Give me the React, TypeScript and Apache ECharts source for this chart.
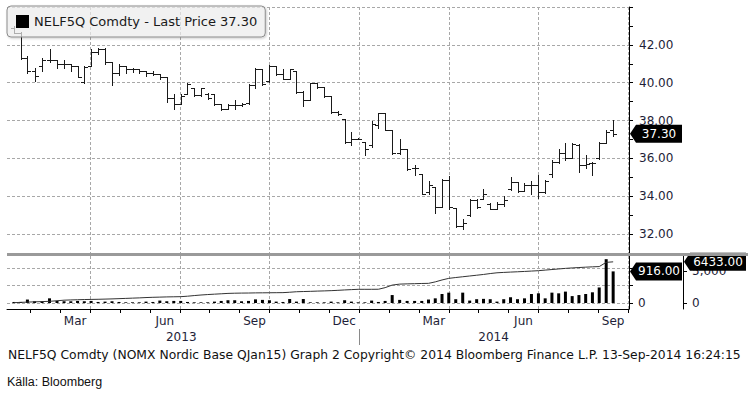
import React, { useEffect, useRef } from 'react';
import * as echarts from 'echarts';

// ---- data (weekly bars, first week starting 15 Jan 2013) ----
const FIRST_WEEK_UTC = Date.UTC(2013, 0, 15);

const weekOpen = [
  42.9, 42.6, 41.3, 40.6, 40.9, 41.2, 41.2, 41.0, 41.0, 40.9,
  40.05, 40.9, 41.6, 41.8, 41.1, 40.5, 40.9, 40.7, 40.7, 40.6,
  40.5, 40.45, 40.3, 39.2, 38.9, 39.4, 39.7, 39.35, 39.4, 39.4,
  38.85, 38.6, 38.8, 38.8, 38.95, 39.9, 40.7, 40.1, 40.9, 40.45,
  40.2, 40.6, 39.5, 39.1, 40.0, 39.75, 39.3, 38.45, 38.1, 36.85,
  37.05, 36.85, 36.7, 37.75, 38.4, 37.5, 36.3, 36.5, 35.5, 35.2,
  34.2, 34.5, 33.45, 34.85, 33.4, 32.45, 33.0, 33.8, 33.85, 33.6,
  33.35, 33.6, 34.4, 34.75, 34.3, 34.6, 34.6, 34.2, 35.2, 35.8,
  36.3, 36.0, 36.7, 35.65, 35.75, 36.0, 36.8, 37.5,
];
const weekHigh = [
  43.0, 42.7, 41.4, 40.8, 41.3, 41.8, 41.2, 41.2, 41.0, 40.9,
  40.9, 41.8, 41.85, 41.85, 41.1, 41.0, 40.9, 40.8, 40.75, 40.6,
  40.6, 40.45, 40.3, 39.4, 39.4, 40.0, 39.7, 39.7, 39.45, 39.4,
  38.85, 38.85, 39.1, 38.95, 39.95, 40.8, 40.7, 40.96, 40.9, 40.7,
  40.7, 40.6, 39.55, 40.0, 40.0, 39.75, 39.3, 38.5, 38.1, 37.4,
  37.1, 36.85, 38.0, 38.4, 38.4, 37.5, 37.0, 36.5, 35.65, 35.2,
  34.8, 34.5, 34.9, 35.05, 33.4, 32.8, 33.85, 33.85, 34.4, 33.65,
  33.7, 34.0, 35.0, 34.75, 34.7, 34.8, 35.1, 34.85, 35.9, 36.5,
  36.8, 36.8, 36.75, 36.2, 35.8, 36.85, 37.5, 38.05,
];
const weekLow = [
  42.6, 41.25, 40.5, 40.1, 40.6, 41.1, 40.8, 40.8, 40.6, 40.3,
  40.0, 40.9, 41.5, 41.0, 39.9, 40.4, 40.5, 40.55, 40.5, 40.35,
  40.4, 40.2, 39.0, 38.6, 38.9, 39.4, 39.3, 39.3, 39.15, 38.8,
  38.55, 38.6, 38.6, 38.75, 38.9, 39.7, 39.9, 40.05, 40.4, 40.2,
  40.2, 39.45, 38.75, 39.1, 39.7, 39.25, 38.4, 38.3, 36.8, 36.7,
  37.0, 36.2, 36.6, 37.6, 37.5, 36.25, 36.25, 35.4, 35.1, 34.1,
  34.1, 33.1, 33.45, 33.3, 32.4, 32.25, 32.95, 33.4, 33.85, 33.3,
  33.3, 33.5, 34.35, 34.25, 34.3, 34.1, 33.9, 34.15, 35.0, 35.75,
  35.9, 36.0, 35.3, 35.5, 35.1, 35.95, 36.8, 37.2,
];
const weekClose = [
  42.6, 41.3, 40.6, 40.35, 41.2, 41.2, 41.0, 41.0, 40.9, 40.3,
  40.85, 41.6, 41.8, 41.1, 40.5, 40.9, 40.7, 40.7, 40.6, 40.5,
  40.45, 40.3, 39.2, 38.9, 39.3, 39.95, 39.35, 39.7, 39.2, 38.85,
  38.6, 38.8, 38.8, 38.85, 39.9, 40.7, 39.95, 40.9, 40.45, 40.2,
  40.7, 39.5, 39.1, 40.0, 39.75, 39.3, 38.45, 38.35, 36.85, 37.0,
  37.05, 36.5, 37.8, 38.4, 37.5, 36.3, 36.5, 35.45, 35.5, 34.1,
  34.6, 33.45, 34.85, 33.45, 32.45, 32.6, 33.8, 33.45, 34.1, 33.35,
  33.6, 33.8, 34.75, 34.3, 34.6, 34.6, 34.2, 34.8, 35.8, 36.3,
  36.0, 36.75, 35.65, 35.7, 35.75, 36.8, 37.4, 37.3,
];
const weekVolume = [
  30, 30, 100, 50, 50, 135, 60, 50, 50, 60,
  50, 60, 30, 40, 50, 30, 20, 20, 20, 40,
  30, 70, 50, 60, 60, 30, 20, 20, 20, 40,
  60, 80, 80, 50, 60, 105, 90, 80, 40, 30,
  115, 40, 115, 20, 20, 20, 40, 20, 80, 40,
  20, 20, 70, 30, 60, 230, 90, 60, 60, 60,
  100, 135, 260, 300, 110, 300, 70, 110, 120, 110,
  40, 110, 165, 110, 135, 260, 280, 135, 300, 280,
  330, 200, 230, 260, 310, 450, 1270, 916,
];
const openInterest = [
  50, 100, 140, 180, 220, 260, 350, 440, 480, 510,
  540, 560, 580, 610, 640, 680, 720, 760, 800, 850,
  890, 920, 950, 970, 990, 1060, 1160, 1250, 1320, 1380,
  1440, 1500, 1530, 1550, 1560, 1580, 1590, 1600, 1610, 1620,
  1680, 1760, 1790, 1820, 1860, 1890, 1930, 1980, 2040, 2090,
  2140, 2140, 2140, 2150, 2400, 2800, 2950, 2990, 3020, 3050,
  3070, 3300, 3600, 3850, 3980, 4100, 4220, 4340, 4460, 4600,
  4720, 4780, 4830, 4880, 4930, 4990, 5050, 5140, 5230, 5320,
  5410, 5480, 5540, 5600, 5650, 5690, 6350, 6433,
];

const MONTH_NAMES = ['Jan', 'Feb', 'Mar', 'Apr', 'May', 'Jun', 'Jul', 'Aug', 'Sep', 'Oct', 'Nov', 'Dec'];
const LABEL_MONTHS = [2, 5, 8, 11, 14, 17, 20]; // Mar, Jun, Sep, Dec 2013; Mar, Jun, Sep 2014
const QUARTER_BOUNDS = [3, 6, 9, 12, 15, 18, 21];
const MONTH_BOUNDS = [1, 2, 3, 4, 5, 6, 7, 8, 9, 10, 11, 12, 13, 14, 15, 16, 17, 18, 19, 20, 21];
const YEARS = ['2013', '2014'];
const YEAR_LABEL_POS = [6.05, 16.5];
const PRICE_LABELS = [32, 34, 36, 38, 40, 42];
const PRICE_TICKS = [31, 32, 33, 34, 35, 36, 37, 38, 39, 40, 41, 42, 43, 44];
const PRICE_GRID = [32, 34, 36, 38, 40, 42, 44];
const VOLUME_TICKS = [0, 500, 1000];
const OI_TICKS = [0, 5000];

const X_MIN = 0.22;
const X_MAX = 21.03;
const FONT = 'DejaVu Sans';
const LABEL_COLOR = '#1e1e38';

function monthPos(t: number): number {
  const d = new Date(t);
  const y = d.getUTCFullYear();
  const mo = d.getUTCMonth();
  const dim = new Date(Date.UTC(y, mo + 1, 0)).getUTCDate();
  return (y - 2013) * 12 + mo + (d.getUTCDate() - 1) / dim;
}

const weekX = weekClose.map((_, k) => monthPos(FIRST_WEEK_UTC + k * 7 * 86400000));
const lastClose = weekClose[weekClose.length - 1];
const lastVolume = weekVolume[weekVolume.length - 1];
const lastOI = openInterest[openInterest.length - 1];
const SERIES_NAME = `NELF5Q Comdty - Last Price ${lastClose.toFixed(2)}`;

const dashed = { color: '#a8a8a8', width: 1, type: [3, 2] as number[] };

function renderOhlc(_params: any, api: any) {
  const x = api.value(0);
  const pO = api.coord([x, api.value(1)]);
  const pH = api.coord([x, api.value(2)]);
  const pL = api.coord([x, api.value(3)]);
  const pC = api.coord([x, api.value(4)]);
  const px = Math.round(pH[0]) + 0.5;
  const snap = (v: number) => Math.round(v) + 0.5;
  const style = { stroke: '#1a1a1a', lineWidth: 1 };
  return {
    type: 'group',
    children: [
      { type: 'line', shape: { x1: px, y1: Math.round(pH[1]), x2: px, y2: Math.round(pL[1]) + 1 }, style },
      { type: 'line', shape: { x1: px - 3.5, y1: snap(pO[1]), x2: px, y2: snap(pO[1]) }, style },
      { type: 'line', shape: { x1: px, y1: snap(pC[1]), x2: px + 3.5, y2: snap(pC[1]) }, style },
    ],
  };
}

function boxMarker(value: number, coordValue: number, width: number, offsetX: number) {
  const h = 18;
  return {
    silent: true,
    symbol: `path://M0,${h / 2}L6,0L${width},0L${width},${h}L6,${h}Z`,
    symbolSize: [width, h],
    symbolOffset: [offsetX, 0],
    symbolKeepAspect: false,
    itemStyle: { color: '#000' },
    label: {
      show: true,
      position: 'inside',
      offset: [3, 0],
      color: '#fff',
      fontSize: 12,
      fontFamily: FONT,
      formatter: value.toFixed(2),
    },
    data: [{ coord: [X_MAX, coordValue] }],
  };
}

export default function App() {
  const ref = useRef<HTMLDivElement>(null);

  useEffect(() => {
    if (!ref.current) return;
    const chart = echarts.init(ref.current, undefined, { renderer: 'svg' });

    const axisLabelBase = { fontSize: 12, fontFamily: FONT, color: LABEL_COLOR };

    const option: any = {
      animation: false,
      backgroundColor: '#fff',
      legend: {
        left: 7,
        top: 6,
        padding: [9, 8, 9, 9],
        itemWidth: 13,
        itemHeight: 13,
        selectedMode: false,
        backgroundColor: 'rgba(244,244,244,0.65)',
        borderColor: '#8c8c8c',
        borderWidth: 1,
        borderRadius: 4,
        shadowBlur: 2,
        shadowOffsetX: 1,
        shadowOffsetY: 1,
        shadowColor: 'rgba(0,0,0,0.25)',
        textStyle: { fontSize: 13, fontFamily: FONT, color: '#1a1a1a' },
        data: [{ name: SERIES_NAME, icon: 'rect', itemStyle: { color: '#000' } }],
      },
      grid: [
        { left: 7, top: 7, width: 622, height: 246, outerBoundsMode: 'none' },
        { left: 7, top: 256, width: 622, height: 53, outerBoundsMode: 'none' },
      ],
      xAxis: [
        {
          gridIndex: 0, type: 'value', position: 'bottom', min: X_MIN, max: X_MAX,
          axisLine: { show: false },
          axisTick: { show: false, customValues: QUARTER_BOUNDS },
          axisLabel: { show: false },
          splitLine: { show: true, lineStyle: dashed },
        },
        {
          gridIndex: 1, type: 'value', position: 'bottom', min: X_MIN, max: X_MAX,
          axisLine: { show: true, onZero: false, lineStyle: { color: '#000', width: 1 } },
          axisTick: { show: false, customValues: QUARTER_BOUNDS },
          axisLabel: { show: false },
          splitLine: { show: true, lineStyle: dashed },
        },
        {
          gridIndex: 1, type: 'value', position: 'bottom', min: X_MIN, max: X_MAX,
          axisLine: { show: false, onZero: false },
          axisTick: { show: true, customValues: MONTH_BOUNDS, length: 4, lineStyle: { color: '#000' } },
          axisLabel: {
            ...axisLabelBase,
            margin: 6,
            customValues: LABEL_MONTHS.map((m) => m + 0.5),
            formatter: (v: number) => MONTH_NAMES[Math.floor(v) % 12],
          },
          splitLine: { show: false },
        },
        {
          gridIndex: 1, type: 'value', position: 'bottom', min: X_MIN, max: X_MAX, offset: 20,
          axisLine: { show: false, onZero: false },
          axisTick: { show: true, customValues: [12], length: 16, lineStyle: { color: '#8a8a8a' } },
          axisLabel: {
            ...axisLabelBase,
            margin: 2,
            customValues: YEAR_LABEL_POS,
            formatter: (v: number) => (v < 12 ? YEARS[0] : YEARS[1]),
          },
          splitLine: { show: false },
        },
      ],
      yAxis: [
        {
          gridIndex: 0, type: 'value', position: 'right', min: 31, max: 44,
          axisLine: { show: true, lineStyle: { color: '#000', width: 1 } },
          axisTick: { show: true, customValues: PRICE_TICKS, length: 4, lineStyle: { color: '#000' } },
          axisLabel: { ...axisLabelBase, margin: 10, customValues: PRICE_LABELS, formatter: (v: number) => v.toFixed(2) },
          splitLine: { show: false },
        },
        {
          gridIndex: 0, type: 'value', position: 'right', min: 31, max: 44,
          axisLine: { show: false },
          axisTick: { show: false, customValues: PRICE_GRID },
          axisLabel: { show: false },
          splitLine: { show: true, lineStyle: dashed },
        },
        {
          gridIndex: 1, type: 'value', position: 'right', min: -174, max: 1362,
          axisLine: { show: true, lineStyle: { color: '#000', width: 1 } },
          axisTick: { show: true, customValues: VOLUME_TICKS, length: 4, lineStyle: { color: '#000' } },
          axisLabel: { ...axisLabelBase, margin: 9, customValues: [0] },
          splitLine: { show: true, lineStyle: dashed },
        },
        {
          gridIndex: 1, type: 'value', position: 'right', offset: 54, min: -937.5, max: 7344,
          axisLine: { show: true, lineStyle: { color: '#000', width: 1 } },
          axisTick: { show: true, customValues: OI_TICKS, length: 4, lineStyle: { color: '#000' } },
          axisLabel: { ...axisLabelBase, margin: 9, customValues: OI_TICKS },
          splitLine: { show: false },
        },
      ],
      series: [
        {
          name: SERIES_NAME,
          type: 'custom',
          xAxisIndex: 0,
          yAxisIndex: 0,
          renderItem: renderOhlc,
          itemStyle: { color: '#000' },
          encode: { x: 0, y: [1, 2, 3, 4] },
          data: weekX.map((x, k) => [x, weekOpen[k], weekHigh[k], weekLow[k], weekClose[k]]),
          silent: true,
          z: 3,
        },
        {
          name: 'last price marker',
          type: 'line',
          xAxisIndex: 0,
          yAxisIndex: 0,
          symbol: 'none',
          lineStyle: { width: 0, opacity: 0 },
          data: [[weekX[weekX.length - 1], lastClose]],
          markPoint: boxMarker(lastClose, lastClose, 52, 27),
          silent: true,
          z: 5,
        },
        {
          name: 'Volume',
          type: 'bar',
          xAxisIndex: 1,
          yAxisIndex: 2,
          barWidth: 3,
          itemStyle: { color: '#000' },
          data: weekX.map((x, k) => [x, weekVolume[k]]),
          markPoint: boxMarker(lastVolume, lastVolume, 52, 27),
          silent: true,
          z: 3,
        },
        {
          name: 'Open Interest',
          type: 'line',
          xAxisIndex: 1,
          yAxisIndex: 3,
          symbol: 'none',
          lineStyle: { color: '#333', width: 1 },
          data: weekX.map((x, k) => [x, openInterest[k]]),
          markPoint: boxMarker(lastOI, lastOI, 62, 86),
          silent: true,
          z: 3,
        },
      ],
      graphic: [
        {
          type: 'rect',
          shape: { x: 7, y: 253, width: 741, height: 3 },
          style: { fill: '#9a9a9a' },
          z: 100,
          silent: true,
        },
        {
          type: 'text',
          x: 8,
          y: 349,
          style: {
            text: 'NELF5Q Comdty (NOMX Nordic Base QJan15) Graph 2 Copyright\u00a9 2014 Bloomberg Finance L.P. 13-Sep-2014 16:24:15',
            font: `12.35px "${FONT}"`,
            fill: '#111',
          },
          silent: true,
        },
        {
          type: 'text',
          x: 7,
          y: 375,
          style: { text: 'Källa: Bloomberg', font: '12.5px "Liberation Sans"', fill: '#111' },
          silent: true,
        },
      ],
    };

    chart.setOption(option);
    return () => chart.dispose();
  }, []);

  return (
    <div
      ref={ref}
      style={{ position: 'fixed', left: 0, top: 0, width: 748, height: 396, background: '#fff' }}
    />
  );
}
